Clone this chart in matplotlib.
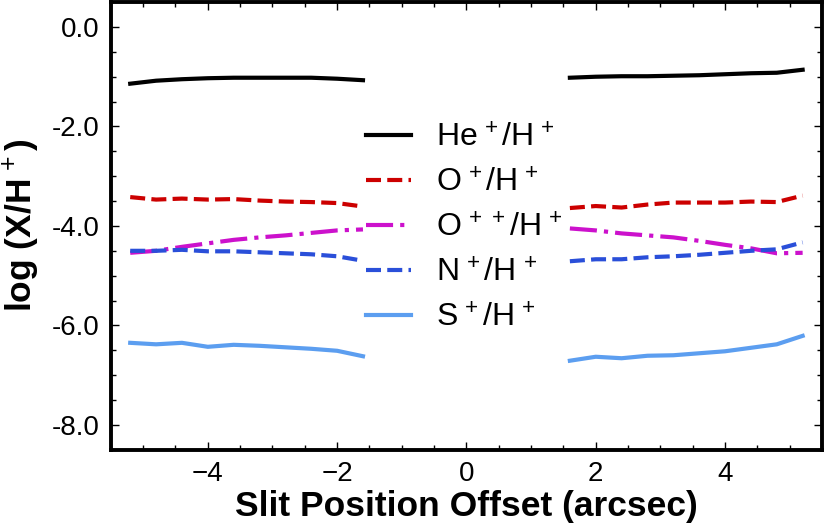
import matplotlib
matplotlib.use("Agg")
import matplotlib.pyplot as plt
from matplotlib.ticker import MultipleLocator, FuncFormatter
import numpy as np

plt.rcParams['font.family'] = ['Liberation Sans', 'DejaVu Sans']
plt.rcParams['mathtext.fontset'] = 'custom'
plt.rcParams['mathtext.rm'] = 'Liberation Sans'
plt.rcParams['mathtext.it'] = 'Liberation Sans:italic'
plt.rcParams['mathtext.bf'] = 'Liberation Sans:bold'

# Slit offsets (arcsec)
x_left = [-5.2, -4.8, -4.4, -4.0, -3.6, -3.2, -2.8, -2.4, -2.0, -1.6]
x_right = [1.6, 2.0, 2.4, 2.8, 3.2, 3.6, 4.0, 4.4, 4.8, 5.2]

he_left = [-1.14, -1.08, -1.05, -1.03, -1.02, -1.02, -1.02, -1.02, -1.04, -1.07]
he_right = [-1.02, -1.00, -0.99, -0.99, -0.98, -0.97, -0.95, -0.93, -0.92, -0.86]

o1_left = [-3.42, -3.47, -3.45, -3.47, -3.46, -3.49, -3.51, -3.52, -3.54, -3.61]
o1_right = [-3.64, -3.60, -3.63, -3.57, -3.53, -3.53, -3.53, -3.51, -3.52, -3.39]

o2_left = [-4.54, -4.50, -4.42, -4.35, -4.28, -4.23, -4.19, -4.14, -4.09, -4.07]
o2_right = [-4.05, -4.09, -4.15, -4.19, -4.23, -4.30, -4.38, -4.45, -4.55, -4.54]

n1_left = [-4.50, -4.50, -4.48, -4.51, -4.51, -4.53, -4.55, -4.57, -4.61, -4.70]
n1_right = [-4.71, -4.67, -4.67, -4.63, -4.61, -4.58, -4.54, -4.50, -4.47, -4.33]

s1_left = [-6.35, -6.38, -6.35, -6.43, -6.39, -6.41, -6.44, -6.47, -6.51, -6.62]
s1_right = [-6.71, -6.63, -6.66, -6.61, -6.60, -6.56, -6.52, -6.45, -6.38, -6.21]

labels = [r"He$^{\,+}$/H$^{\,+}$", r"O$^{\,+}$/H$^{\,+}$", r"O$^{\,+\,+}$/H$^{\,+}$",
          r"N$^{\,+}$/H$^{\,+}$", r"S$^{\,+}$/H$^{\,+}$"]

fig = plt.figure(figsize=(8.27, 5.31), dpi=100)
ax = fig.add_axes([0.134, 0.153, 0.86, 0.843])

lw = 3.0
styles = [
    dict(color='black', linestyle='-'),
    dict(color='#cc0000', linestyle=(0, (3.6, 1.5))),
    dict(color='#cc11cc', linestyle=(0, (6.5, 1.7, 1.0, 1.7))),
    dict(color='#2a4fd9', linestyle=(0, (3.6, 1.5))),
    dict(color='#5c9ef0', linestyle='-'),
]
series = [(he_left, he_right), (o1_left, o1_right), (o2_left, o2_right),
          (n1_left, n1_right), (s1_left, s1_right)]

for (yl, yr), st, lab in zip(series, styles, labels):
    ax.plot(x_left, yl, lw=lw, label=lab, **st)
    ax.plot(x_right, yr, lw=lw, **st)

ax.set_xlim(-5.5, 5.5)
ax.set_ylim(-8.5, 0.5)

ax.xaxis.set_major_locator(MultipleLocator(2))
ax.xaxis.set_minor_locator(MultipleLocator(0.5))
ax.yaxis.set_major_locator(MultipleLocator(2))
ax.yaxis.set_minor_locator(MultipleLocator(0.5))
ax.yaxis.set_major_formatter(FuncFormatter(lambda v, p: f"{v:.1f}" if abs(v) > 1e-9 else "0.0"))

ax.tick_params(which='both', direction='in', top=True, right=True, width=1.0)
ax.tick_params(which='major', length=6, labelsize=20, pad=8)
ax.tick_params(which='minor', length=3.5)
for s in ax.spines.values():
    s.set_linewidth(2.8)

ax.set_xlabel("Slit Position Offset (arcsec)", fontsize=25.5, fontweight='bold', labelpad=2)
ax.set_ylabel(r"log (X/H$^{\,+}$)", fontsize=25.5, fontweight='bold', labelpad=7)

leg = ax.legend(loc='center', bbox_to_anchor=(0.497, 0.494), frameon=False,
                fontsize=23, handlelength=1.4, handletextpad=0.8, labelspacing=0.47)

fig.savefig("out.png", dpi=100)
